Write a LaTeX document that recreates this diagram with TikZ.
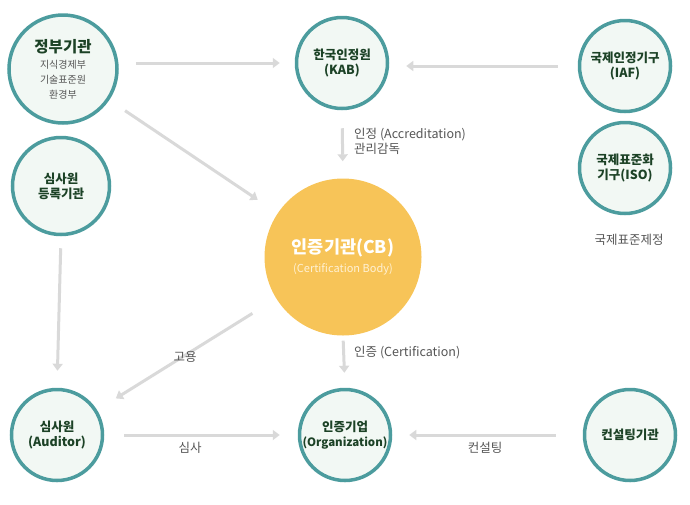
\documentclass[tikz,border=0pt]{standalone}
\usepackage{fontspec}
\setmainfont{Noto Sans CJK KR}
\usepackage{xcolor}
\usepackage{tikz}
\usetikzlibrary{arrows.meta,positioning}

\definecolor{ringteal}{RGB}{76,156,158}
\definecolor{ringfill}{RGB}{242,248,244}
\definecolor{ringtext}{RGB}{28,66,38}
\definecolor{cbyellow}{RGB}{247,196,88}
\definecolor{cbsub}{RGB}{255,241,212}
\definecolor{arrowgray}{RGB}{217,217,217}
\definecolor{labelgray}{RGB}{85,85,85}

\newcommand{\subfont}{\fontsize{10}{14.5}\selectfont\mdseries\color{labelgray}}

\begin{document}
\begin{tikzpicture}[
  x=1pt, y=-1pt,
  font=\fontsize{12.5}{15}\selectfont,
  orgcircle/.style={
    circle,
    draw=ringteal,
    line width=3.5pt,
    fill=ringfill,
    text=ringtext,
    align=center,
    inner sep=0pt,
    minimum size=#1
  },
  orgcircle/.default=91pt,
  cbcircle/.style={
    circle,
    fill=cbyellow,
    text=white,
    align=center,
    inner sep=0pt,
    minimum size=157pt
  },
  arrow/.style={-{Triangle[length=7pt,width=10pt]}, line width=3pt, draw=arrowgray},
  lbl/.style={text=labelgray, align=left, inner sep=0pt}
]
  \useasboundingbox (0,0) rectangle (690,504);

  \node[orgcircle=108pt] (gov) at (63,69) {%
    \fontsize{15.5}{19}\selectfont\bfseries 정부기관\\[1pt]
    \subfont 지식경제부\\ \subfont 기술표준원\\ \subfont 환경부};
  \node[orgcircle]     (kab)     at (342,63)  {\bfseries 한국인정원\\ \bfseries (KAB)};
  \node[orgcircle]     (iaf)     at (625,66)  {\bfseries 국제인정기구\\ \bfseries (IAF)};
  \node[orgcircle]     (iso)     at (625,168) {\bfseries 국제표준화\\ \bfseries 기구(ISO)};
  \node[orgcircle=97pt] (reg)    at (61,186)  {\bfseries 심사원\\ \bfseries 등록기관};
  \node[cbcircle]      (cb)      at (343,257) {%
    \fontsize{17.5}{21}\selectfont\bfseries 인증기관(CB)\\[4pt]
    \fontsize{11}{13}\selectfont\mdseries\color{cbsub}(Certification Body)};
  \node[orgcircle]     (auditor) at (57,435)  {\bfseries 심사원\\ \bfseries (Auditor)};
  \node[orgcircle]     (org)     at (345,435) {\bfseries 인증기업\\
    \fontsize{11.5}{15}\selectfont\bfseries (Organization)};
  \node[orgcircle]     (consult) at (630,435) {\bfseries 컨설팅기관};

  \node[text=labelgray] (isotext) at (629,240) {국제표준제정};

  \draw[arrow, shorten <=17pt, shorten >=15pt] (gov.east |- kab.west) -- (kab.west);
  \draw[arrow, shorten <=20pt, shorten >=17pt] (iaf.west) -- (kab.east |- iaf.west);
  \draw[arrow, shorten <=19pt, shorten >=24pt] (gov) -- (cb);
  \draw[arrow, shorten <=18pt, shorten >=17pt] (kab.south) -- (cb.north);
  \draw[arrow, shorten <=12pt, shorten >=17pt] (reg.south) -- (auditor.north);
  \draw[arrow, shorten <=28pt, shorten >=22pt] (cb) -- (auditor);
  \draw[arrow, shorten <=5pt, shorten >=15pt] (cb.south) -- (org.north);
  \draw[arrow, shorten <=20pt, shorten >=18pt] (auditor.east |- org.west) -- (org.west);
  \draw[arrow, shorten <=27pt, shorten >=17pt] (consult.west) -- (org.east |- consult.west);

  \node[lbl, anchor=west] (accr)   at (354,141) {인정 (Accreditation)\\관리감독};
  \node[lbl, anchor=west] (certif) at (354,353) {인증 (Certification)};
  \node[lbl]              (hire)   at (185,357) {고용};
  \node[lbl]              (audit)  at (190,448) {심사};
  \node[lbl]              (consl)  at (485,448) {컨설팅};
\end{tikzpicture}
\end{document}
